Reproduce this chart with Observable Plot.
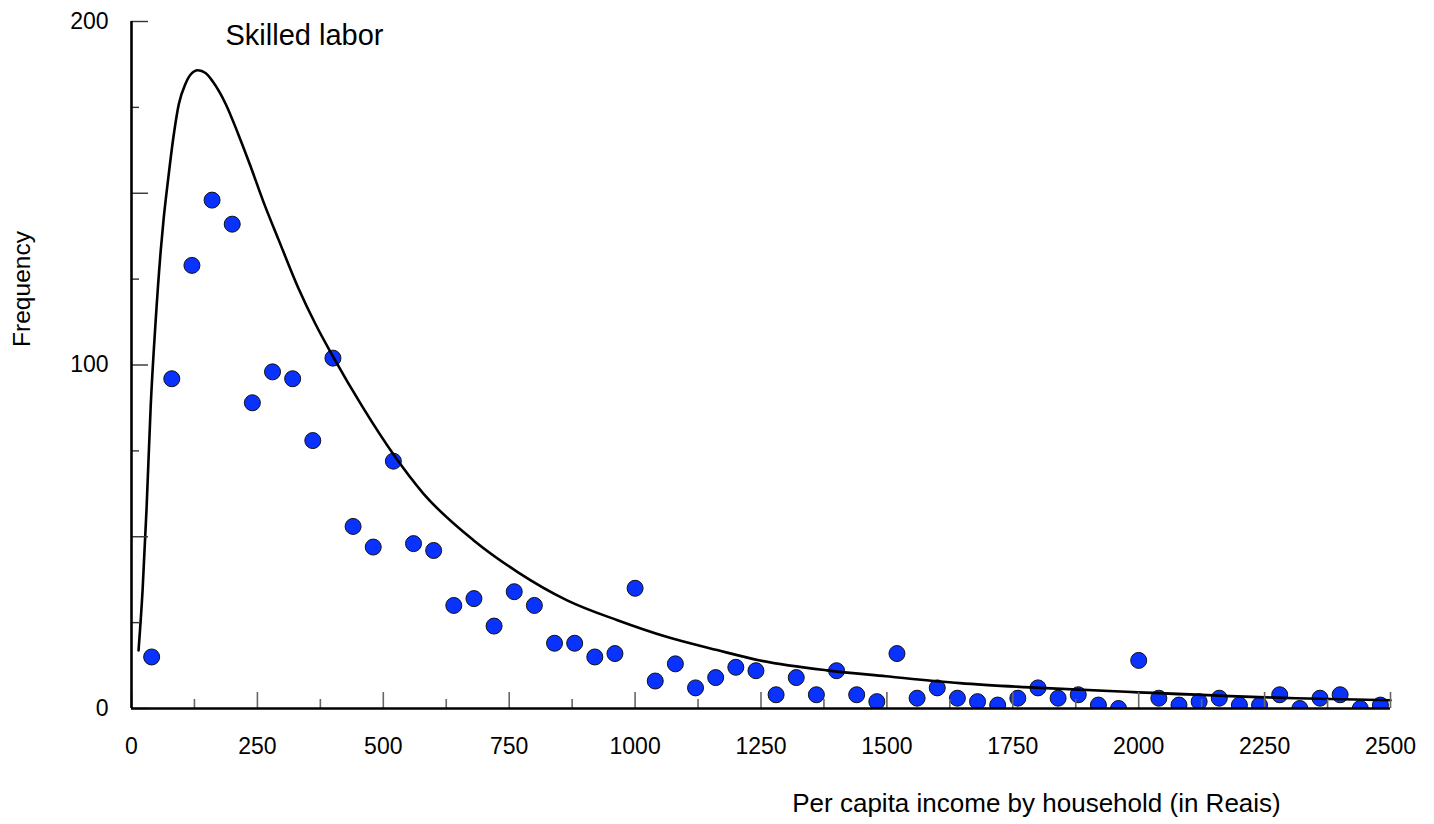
<!DOCTYPE html>
<html>
<head>
<meta charset="utf-8">
<script src="https://cdn.jsdelivr.net/npm/d3@7"></script>
<script src="https://cdn.jsdelivr.net/npm/@observablehq/plot@0.6"></script>
<style>
  html, body { margin: 0; padding: 0; background: #fff; }
  #chart svg { display: block; }
</style>
</head>
<body>
<div id="chart"></div>
<script>
// Observed frequencies by income bin (Reais)
const income = [40, 80, 120, 160, 200, 240, 280, 320, 360, 400, 440, 480, 520, 560, 600, 640, 680, 720, 760, 800,
  840, 880, 920, 960, 1000, 1040, 1080, 1120, 1160, 1200, 1240, 1280, 1320, 1360, 1400, 1440, 1480, 1520, 1560, 1600,
  1640, 1680, 1720, 1760, 1800, 1840, 1880, 1920, 1960, 2000, 2040, 2080, 2120, 2160, 2200, 2240, 2280, 2320, 2360, 2400,
  2440, 2480];
const frequency = [15, 96, 129, 148, 141, 89, 98, 96, 78, 102, 53, 47, 72, 48, 46, 30, 32, 24, 34, 30,
  19, 19, 15, 16, 35, 8, 13, 6, 9, 12, 11, 4, 9, 4, 11, 4, 2, 16, 3, 6,
  3, 2, 1, 3, 6, 3, 4, 1, 0, 14, 3, 1, 2, 3, 1, 1, 4, 0, 3, 4,
  0, 1];

// Fitted curve, points
const fitX = [14, 22, 30, 38, 48, 58, 64, 73, 83, 94, 107, 117, 132, 147, 161, 187, 212, 236, 262, 292,
  331, 365, 400, 460, 520, 580, 679, 766, 865, 965, 1064, 1163, 1248, 1381, 1498, 1645, 1804, 2000, 2312, 2500];
const fitY = [16.9, 34.4, 58.5, 87.6, 112.9, 133.2, 142.8, 154.4, 166.1, 176.0, 181.8, 184.5, 185.8, 185.0, 182.6, 176.0, 167.2, 158.0, 147.5, 136.5,
  122.5, 112.0, 102.5, 87.5, 74.0, 62.5, 49.0, 39.8, 31.5, 25.7, 20.8, 17.0, 14.0, 11.1, 9.4, 7.4, 6.0, 4.7, 3.0, 2.4];

// Ticks and labels
const xLabelTicks = [0, 250, 500, 750, 1000, 1250, 1500, 1750, 2000, 2250, 2500];
const xMajorTicks = [0, 250, 500, 750, 1000, 1250, 1500, 1750, 2000, 2250, 2500];
const xMinorTicks = [125, 375, 625, 875, 1125, 1375, 1625, 1875, 2125, 2375];
const yLabelTicks = [0, 100, 200];
const yMajorTicks = [0, 50, 100, 150, 200];
const yMinorTicks = [25, 75, 125, 175];

const title = "Skilled labor";
const xTitle = "Per capita income by household (in Reais)";
const yTitle = "Frequency";

const points = income.map((x, i) => ({x, y: frequency[i]}));
const fit = fitX.map((x, i) => ({x, y: fitY[i]}));

const font = "'Liberation Sans', Arial, Helvetica, sans-serif";

const chart = Plot.plot({
  width: 1434,
  height: 824,
  marginLeft: 131,
  marginRight: 44,
  marginTop: 21,
  marginBottom: 116,
  style: {fontFamily: font, fontSize: "23px", color: "#000", background: "#fff", overflow: "visible"},
  x: {domain: [0, 2500]},
  y: {domain: [0, 200]},
  marks: [
    Plot.dot(points, {x: "x", y: "y", r: 8, fill: "#0a32ff", stroke: "#111", strokeWidth: 1, clip: true}),
    Plot.line(fit, {x: "x", y: "y", stroke: "#000", strokeWidth: 2.6, curve: "monotone-x"}),
    // tick marks pointing inward
    Plot.axisX(xMajorTicks, {anchor: "bottom", tickSize: -16, text: null, stroke: "#666", strokeWidth: 1.6, label: null}),
    Plot.axisX(xMinorTicks, {anchor: "bottom", tickSize: -9, text: null, stroke: "#666", strokeWidth: 1.6, label: null}),
    Plot.axisY(yMajorTicks, {anchor: "left", tickSize: -17, text: null, stroke: "#333", strokeWidth: 1.4, label: null}),
    Plot.axisY(yMinorTicks, {anchor: "left", tickSize: -8, text: null, stroke: "#333", strokeWidth: 1.4, label: null}),
    // tick labels
    Plot.axisX(xLabelTicks, {anchor: "bottom", tickSize: 0, tickPadding: 29, label: null, fontSize: 23, tickFormat: d3.format("d")}),
    Plot.axisY(yLabelTicks, {anchor: "left", tickSize: 0, tickPadding: 23, label: null, fontSize: 23, tickFormat: d3.format("d")}),
    // axis lines
    Plot.ruleX([0], {stroke: "#000", strokeWidth: 2.6}),
    Plot.ruleY([0], {stroke: "#000", strokeWidth: 2.6}),
    // titles
    Plot.text([title], {text: d => d, frameAnchor: "top-left", textAnchor: "start", lineAnchor: "middle", dx: 94, dy: 14, fontSize: 29}),
    Plot.text([yTitle], {text: d => d, frameAnchor: "left", textAnchor: "middle", rotate: -90, lineAnchor: "middle", dx: -109, dy: -76, fontSize: 24.5}),
    Plot.text([xTitle], {text: d => d, frameAnchor: "bottom-left", textAnchor: "middle", lineAnchor: "middle", dx: 905, dy: 95, fontSize: 26})
  ]
});

document.getElementById("chart").appendChild(chart);
</script>
</body>
</html>
